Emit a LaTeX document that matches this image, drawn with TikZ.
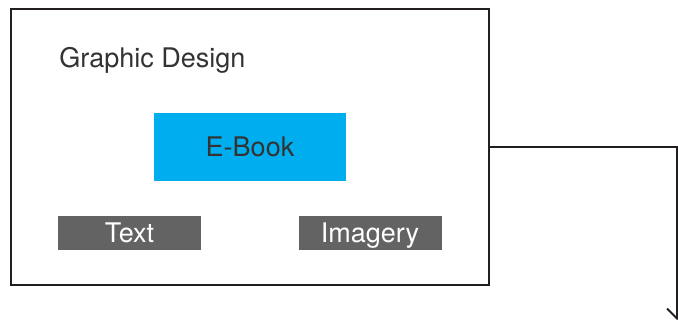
\documentclass[tikz,border=0pt]{standalone}
\usepackage{fontspec}
\setmainfont{TeX Gyre Heros}
\usetikzlibrary{arrows.meta, positioning}
\definecolor{ebookblue}{RGB}{0, 174, 239}
\definecolor{boxgray}{RGB}{99, 99, 100}
\definecolor{framedark}{RGB}{35, 31, 32}
\definecolor{labeldark}{RGB}{51, 51, 51}

\begin{document}
\begin{tikzpicture}[x=0.5pt, y=-0.5pt,
  frame/.style={draw=framedark, line width=1pt, minimum width=239pt, minimum height=138pt, inner sep=0pt},
  media/.style={fill=#1, minimum width=71.5pt, minimum height=17pt, inner sep=0pt, text height=9.7pt, text depth=0pt, text=white, font=\fontsize{13.5}{15}\selectfont},
  arrow/.style={-{Straight Barb[length=5pt, width=10pt]}, line width=1pt, color=framedark}
]
  \useasboundingbox (0,0) rectangle (678,322);
  \node[frame] (design) at (250,147) {};
  \node[anchor=base west, inner sep=0pt, text=labeldark, font=\fontsize{13.5}{15}\selectfont] (title) at (59,67) {Graphic Design};
  \node[fill=ebookblue, minimum width=96pt, minimum height=34pt, inner sep=0pt, text=labeldark, font=\fontsize{13.5}{15}\selectfont] (ebook) at (250,147) {E-Book};
  % the two parts of the book
  \node[media=boxgray] (text) at (129.5,233) {Text};
  \node[media=boxgray] (imagery) at (370,233) {Imagery};

  \coordinate (out) at (677,320);
  \draw[arrow] (design.east) -| (out);
\end{tikzpicture}
\end{document}
